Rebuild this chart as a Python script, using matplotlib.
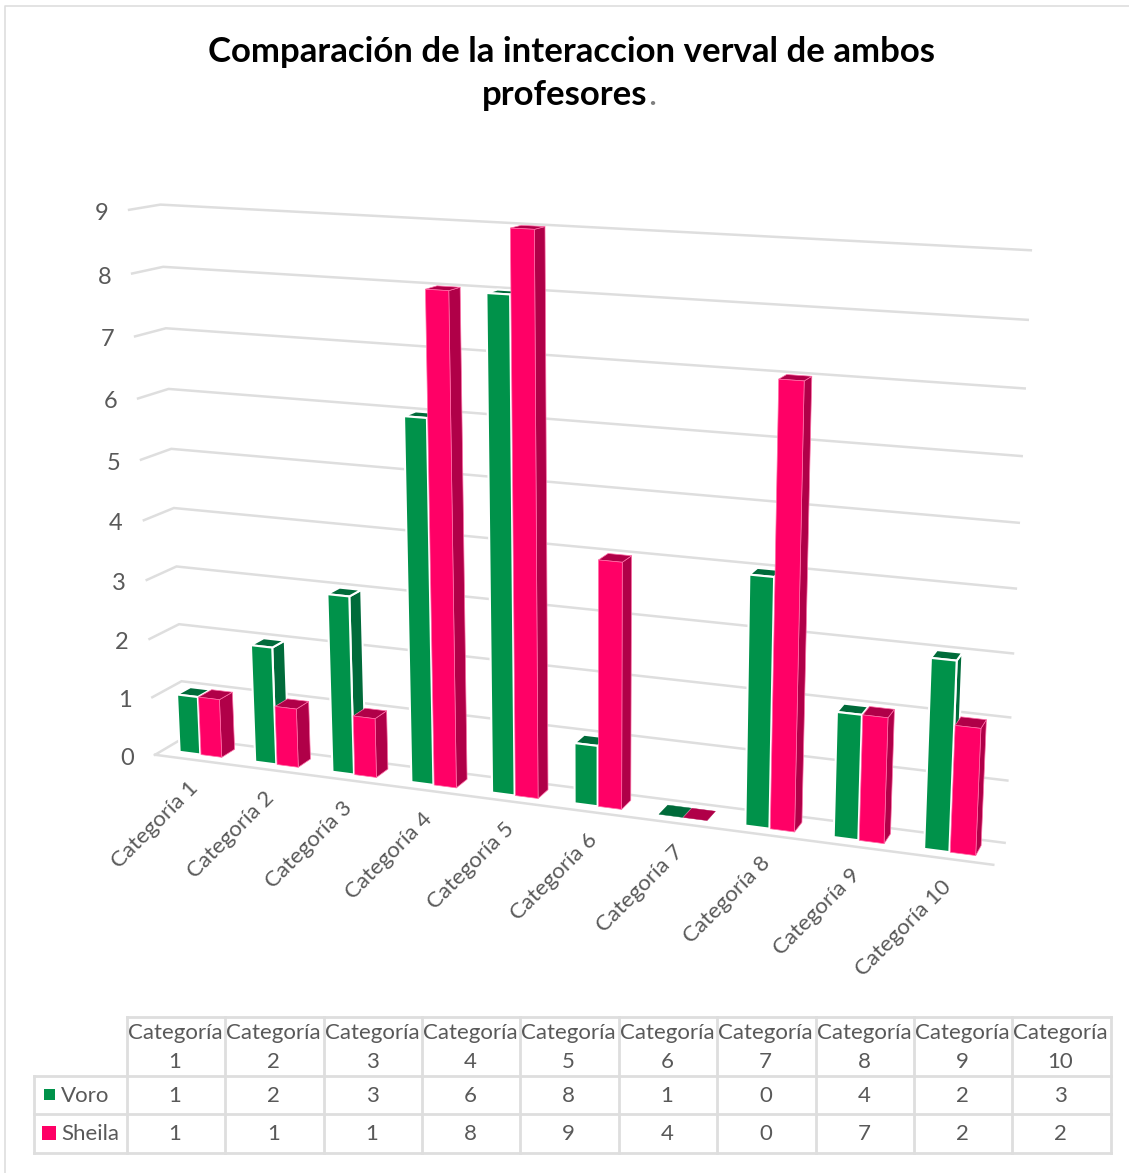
import numpy as np
import matplotlib
matplotlib.use("Agg")
import matplotlib.pyplot as plt
from matplotlib.patches import Polygon, Rectangle

categories = ["Categoría %d" % i for i in range(1, 11)]
voro = [1, 2, 3, 6, 8, 1, 0, 4, 2, 3]
sheila = [1, 1, 1, 8, 9, 4, 0, 7, 2, 2]
y_ticks = list(range(10))

plt.rcParams['font.family'] = ['Lato', 'DejaVu Sans']
TXT = '#595959'
GRID = '#DEDEDE'
W, H = 1129, 1173
fig = plt.figure(figsize=(W / 100, H / 100), dpi=100)
ax = fig.add_axes([0, 0, 1, 1])
ax.set_xlim(0, W)
ax.set_ylim(H, 0)
ax.axis('off')

# --- perspective camera fitted to the chart box outline (x 0-10, value 0-9, depth 0-1)
back_l = [(185, 740), (182, 680), (179, 623), (176, 566), (174, 508), (171, 449), (168, 390), (165, 329), (163, 267), (160, 205)]
back_r = [(1005, 842), (1007, 780), (1010, 717), (1013, 652), (1016, 588), (1019, 523), (1022, 457), (1025, 389), (1028, 320), (1031, 250)]
front_l = [(155, 755), (152, 698), (150, 640), (147, 580), (144, 519), (141, 458), (138, 397), (135, 335), (132, 273), (130, 212)]
pts = []
for v in range(10):
    pts.append(((0, v, 1), back_l[v]))
    pts.append(((10, v, 1), back_r[v]))
    pts.append(((0, v, 0), front_l[v]))
pts.append(((10, 0, 0), (992, 867)))
A = []
for (X, Y, Z), (u, w) in pts:
    u, w = u / 1000, w / 1000
    A.append([X, Y, Z, 1, 0, 0, 0, 0, -u * X, -u * Y, -u * Z, -u])
    A.append([0, 0, 0, 0, X, Y, Z, 1, -w * X, -w * Y, -w * Z, -w])
P = np.linalg.svd(np.array(A))[2][-1].reshape(3, 4)


def proj(x, v, z):
    h = P @ np.array([x, v, z, 1.0])
    return h[0] / h[2] * 1000, h[1] / h[2] * 1000


# --- gridlines
for v in y_ticks:
    a, b, c = proj(0, v, 0), proj(0, v, 1), proj(10, v, 1)
    ax.plot([a[0], b[0], c[0]], [a[1], b[1], c[1]], color=GRID, lw=1.8, zorder=1, solid_joinstyle='miter')
    ax.text(a[0] - 21, a[1] + 3.5, str(v), color=TXT, fontsize=17, ha='right', va='center')
a, b = proj(0, 0, 0), proj(10, 0, 0)
ax.plot([a[0], b[0]], [a[1], b[1]], color=GRID, lw=1.8, zorder=1)

# --- bars
BAR_A, BAR_W, Z0, Z1 = 0.215, 0.275, 0.29, 0.75
STYLE = [('#00924A', '#006B3A', '#FFFFFF', 1.5), ('#FF0066', '#B00048', '#FF6FA8', 0.5)]


def face(corners, fc, ec, lw, zo):
    ax.add_patch(Polygon([proj(*c) for c in corners], closed=True, facecolor=fc, edgecolor=ec, lw=lw, zorder=zo, joinstyle='round'))


zo = 2
for i in range(10):
    for s, vals in enumerate((voro, sheila)):
        x0 = i + BAR_A + s * (BAR_W + 0.01)
        x1 = x0 + BAR_W
        v = vals[i]
        front, dark, edge, lw = STYLE[s]
        if v > 0:
            face([(x1, 0, Z0), (x1, 0, Z1), (x1, v, Z1), (x1, v, Z0)], dark, edge, lw, zo)
            zo += 1
        face([(x0, v, Z0), (x1, v, Z0), (x1, v, Z1), (x0, v, Z1)], dark, edge if v > 0 else dark, lw if v > 0 else 0.3, zo)
        zo += 1
        if v > 0:
            face([(x0, 0, Z0), (x1, 0, Z0), (x1, v, Z0), (x0, v, Z0)], front, edge, lw, zo)
            zo += 1

# --- category labels
for i, c in enumerate(categories):
    x, y = proj(i + 0.5, 0, 0)
    ax.text(x + 2, y + 25, c, rotation=45, rotation_mode='anchor', ha='right', va='center', color=TXT, fontsize=16)

# --- title
t1 = ax.text(572, 52, "Comparación de la interaccion verval de ambos", ha='center', va='center', fontsize=25, fontweight='bold', color='black')
t2 = ax.text(565, 95, "profesores", ha='center', va='center', fontsize=25, fontweight='bold', color='black')
ax.annotate('.', xy=(1, 0), xycoords=t2, xytext=(0.5, 0), textcoords='offset points', fontsize=25, color='#7F7F7F', va='bottom', ha='left')

# --- data table
col_x = [127, 225, 324, 422, 520, 619, 717, 816, 914, 1012, 1111]
row_y = [1017, 1076, 1114, 1153]
LEFT = 34
tkw = dict(color=GRID, lw=2, zorder=1, solid_capstyle='projecting')
ax.plot([col_x[0], col_x[-1]], [row_y[0]] * 2, **tkw)
for y in row_y[1:]:
    ax.plot([LEFT, col_x[-1]], [y, y], **tkw)
for x in col_x:
    ax.plot([x, x], [row_y[0], row_y[-1]], **tkw)
ax.plot([LEFT, LEFT], [row_y[1], row_y[-1]], **tkw)
for i, c in enumerate(categories):
    cx = (col_x[i] + col_x[i + 1]) / 2 - 1
    w1, w2 = c.split(' ')
    ax.text(cx, 1033, w1, ha='center', va='center', color=TXT, fontsize=16)
    ax.text(cx, 1062, w2, ha='center', va='center', color=TXT, fontsize=16)
    ax.text(cx, 1096, str(voro[i]), ha='center', va='center', color=TXT, fontsize=16)
    ax.text(cx, 1134, str(sheila[i]), ha='center', va='center', color=TXT, fontsize=16)
ax.add_patch(Rectangle((44, 1089), 11, 11, fc='#00924A', ec='none'))
ax.add_patch(Rectangle((42, 1126), 14, 14, fc='#FF0066', ec='none'))
ax.text(61, 1096, "Voro", ha='left', va='center', color=TXT, fontsize=16)
ax.text(61, 1134, "Sheila", ha='left', va='center', color=TXT, fontsize=16)

# --- outer frame (left and top edges only are visible)
ax.plot([5, 5, W], [H, 6, 6], color=GRID, lw=1.2, zorder=0)

fig.savefig('out.png', dpi=100)
